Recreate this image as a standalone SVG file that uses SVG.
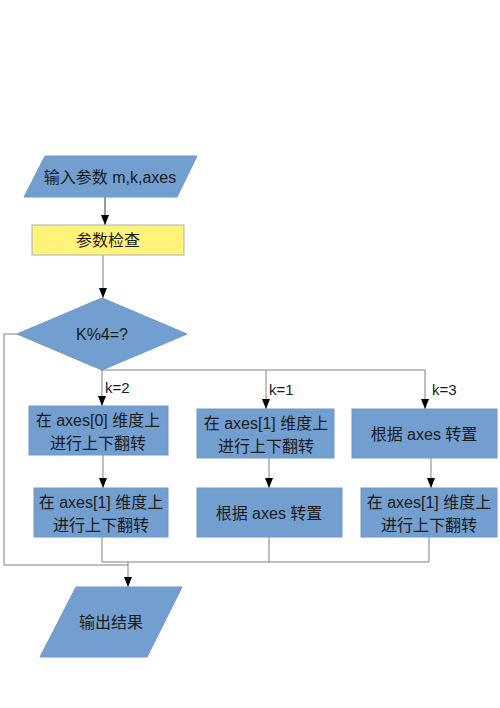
<svg xmlns="http://www.w3.org/2000/svg" width="500" height="708" viewBox="0 0 500 708">
<style>
.blue{fill:#729fcf;stroke:#6e97c6;stroke-width:1}
.yellow{fill:#fff37a;stroke:#a7b2bc;stroke-width:1}
.t{font-family:"Liberation Sans","Noto Sans CJK SC",sans-serif;font-size:16px;fill:#1a1a1a;text-anchor:middle;dominant-baseline:central}
.lbl{font-family:"Liberation Sans","Noto Sans CJK SC",sans-serif;font-size:15px;fill:#1a1a1a}
.c{fill:none;stroke:#808080;stroke-width:1}
.c2{fill:none;stroke:#333333;stroke-width:1}
</style>
<defs>
<marker id="ah" viewBox="0 0 10 10" refX="10" refY="5" markerWidth="10" markerHeight="10" markerUnits="userSpaceOnUse" orient="auto">
<path d="M0,1 L10,5 L0,9 z" fill="#000"/>
</marker>
</defs>
<rect width="500" height="708" fill="#fff"/>
<g id="connectors">
<line class="c2" x1="105" y1="197" x2="105" y2="225" marker-end="url(#ah)"/>
<line class="c" x1="103" y1="255" x2="103" y2="298" marker-end="url(#ah)"/>
<polyline class="c" points="17,334 4,334 4,565 128,565"/>
<polyline class="c" points="102,370 425,370"/>
<line class="c" x1="102" y1="370" x2="102" y2="406" marker-end="url(#ah)"/>
<line class="c" x1="266" y1="370" x2="266" y2="409" marker-end="url(#ah)"/>
<line class="c" x1="425" y1="370" x2="425" y2="409" marker-end="url(#ah)"/>
<line class="c" x1="103" y1="455" x2="103" y2="488" marker-end="url(#ah)"/>
<line class="c" x1="269" y1="458" x2="269" y2="488" marker-end="url(#ah)"/>
<line class="c" x1="431" y1="458" x2="431" y2="488" marker-end="url(#ah)"/>
<polyline class="c" points="102,537 102,562 429,562 429,537"/>
<line class="c" x1="269" y1="537" x2="269" y2="562"/>
<line class="c" x1="128" y1="562" x2="128" y2="587" marker-end="url(#ah)"/>
<text class="lbl" x="105" y="393">k=2</text>
<text class="lbl" x="269" y="395">k=1</text>
<text class="lbl" x="432" y="395">k=3</text>
</g>
<g id="input">
<polygon class="blue" points="45,156 197,156 177,197 24,197"/>
<text class="t" x="110" y="177">输入参数 m,k,axes</text>
</g>
<g id="check">
<rect class="yellow" x="32" y="225" width="152" height="30"/>
<text class="t" x="108" y="240">参数检查</text>
</g>
<g id="decision">
<polygon class="blue" points="102,298 187,334 102,370 17,334"/>
<text class="t" x="102" y="334">K%4=?</text>
</g>
<g id="a1">
<rect class="blue" x="29" y="406" width="139" height="49"/>
<text class="t" x="98" y="420">在 axes[0] 维度上</text>
<text class="t" x="98" y="443">进行上下翻转</text>
</g>
<g id="a2">
<rect class="blue" x="34" y="488" width="134" height="49"/>
<text class="t" x="101" y="502">在 axes[1] 维度上</text>
<text class="t" x="101" y="525">进行上下翻转</text>
</g>
<g id="b1">
<rect class="blue" x="197" y="409" width="137" height="49"/>
<text class="t" x="266" y="423">在 axes[1] 维度上</text>
<text class="t" x="266" y="446">进行上下翻转</text>
</g>
<g id="b2">
<rect class="blue" x="197" y="488" width="145" height="49"/>
<text class="t" x="269" y="513">根据 axes 转置</text>
</g>
<g id="c1">
<rect class="blue" x="352" y="409" width="145" height="49"/>
<text class="t" x="424" y="434">根据 axes 转置</text>
</g>
<g id="c2">
<rect class="blue" x="361" y="488" width="136" height="49"/>
<text class="t" x="429" y="502">在 axes[1] 维度上</text>
<text class="t" x="429" y="525">进行上下翻转</text>
</g>
<g id="output">
<polygon class="blue" points="76,587 182,587 147,657 40,657"/>
<text class="t" x="111" y="622">输出结果</text>
</g>
</svg>
